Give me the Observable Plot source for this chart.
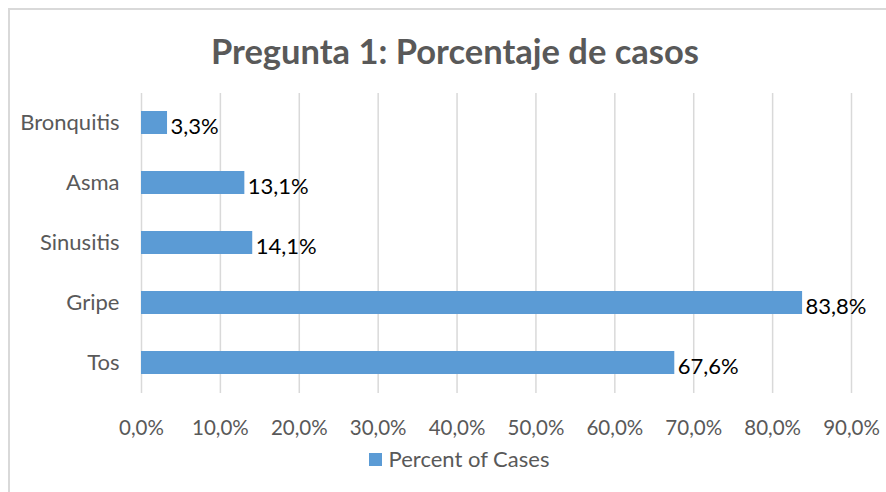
<!DOCTYPE html>
<html><head><meta charset="utf-8">
<script src="https://cdn.jsdelivr.net/npm/d3@7"></script>
<script src="https://cdn.jsdelivr.net/npm/@observablehq/plot@0.6"></script>
<style>
body{margin:0;background:#fff;font-family:Lato,"Open Sans",sans-serif;}
#wrap{position:relative;width:886px;height:492px;overflow:hidden;}
#frame{position:absolute;left:8px;top:8px;width:900px;height:500px;border:2px solid #d9d9d9;box-sizing:border-box;}
#title{position:absolute;left:0;width:910px;top:30px;text-align:center;font-size:34.5px;line-height:42px;font-weight:bold;color:#595959;}
#legend{position:absolute;left:0;width:918px;top:445px;text-align:center;font-size:22px;line-height:28px;color:#595959;}
#legend span.sw{display:inline-block;width:13px;height:13px;background:#5b9bd5;margin-right:7px;vertical-align:1px;}
#chart{position:absolute;left:0;top:0;}
</style></head>
<body>
<div id="wrap">
<div id="frame"></div>
<div id="chart"></div>
<div id="title">Pregunta 1: Porcentaje de casos</div>
<div id="legend"><span class="sw"></span>Percent of Cases</div>
</div>
<script>
const categories = ["Bronquitis", "Asma", "Sinusitis", "Gripe", "Tos"];
const values = [3.3, 13.1, 14.1, 83.8, 67.6];
const xTicks = [0, 10, 20, 30, 40, 50, 60, 70, 80, 90];
const seriesName = "Percent of Cases";

const data = categories.map((c, i) => ({category: c, value: values[i]}));
const fmt = v => v.toFixed(1).replace(".", ",") + "%";

const chart = Plot.plot({
  width: 886,
  height: 492,
  marginLeft: 141,
  marginRight: 35,
  marginTop: 93,
  marginBottom: 99,
  style: {fontFamily: "Lato, 'Open Sans', sans-serif", fontSize: "20px", color: "#595959", background: "transparent"},
  x: {domain: [0, 90], ticks: xTicks, tickFormat: fmt, label: null},
  y: {domain: categories, label: null, paddingInner: 0.615, paddingOuter: 0.3075},
  marks: [
    Plot.gridX(xTicks, {stroke: "#d9d9d9", strokeOpacity: 1, strokeWidth: 1.5}),
    Plot.axisX({ticks: xTicks, tickFormat: fmt, tickSize: 0, tickPadding: 27, fill: "#595959", fontSize: 20.5, label: null}),
    Plot.axisY({tickSize: 0, tickPadding: 22, fill: "#595959", fontSize: 22, label: null}),
    Plot.barX(data, {x: "value", y: "category", fill: "#5b9bd5"}),
    Plot.text(data, {x: "value", y: "category", text: d => fmt(d.value), textAnchor: "start", dx: 3, dy: 4, fill: "#000", fontSize: 22})
  ]
});
document.getElementById("chart").appendChild(chart);
</script>
</body></html>
